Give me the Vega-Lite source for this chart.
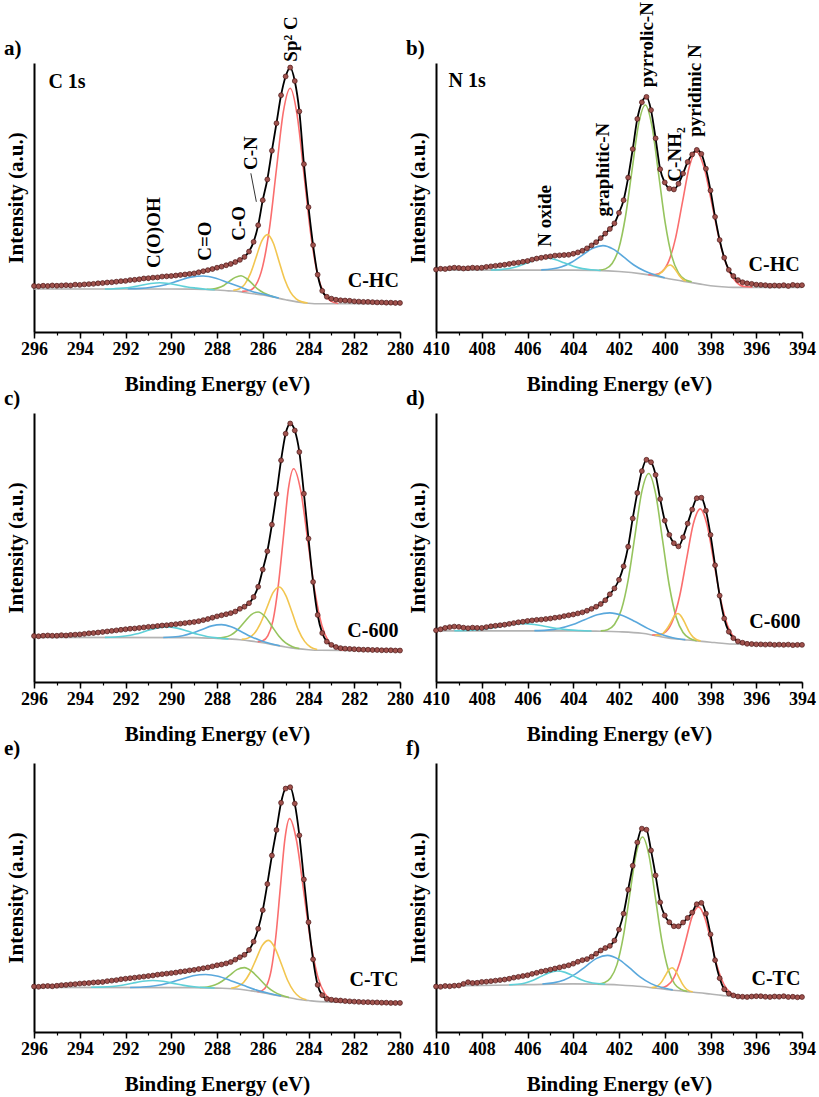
{
  "$schema": "https://vega.github.io/schema/vega-lite/v6.json",
  "description": "XPS C 1s and N 1s spectra of C-HC, C-600 and C-TC with fitted components.",
  "background": "white",
  "padding": {"left": 4, "top": 2, "right": 3, "bottom": 3},
  "config": {
    "view": {"stroke": null},
    "font": "Liberation Serif",
    "header": {"labels": false, "title": null},
    "axis": {
      "grid": false,
      "domainColor": "black",
      "domainWidth": 2,
      "tickColor": "black",
      "labelFont": "Liberation Serif",
      "labelFontWeight": "bold",
      "labelFontSize": 18,
      "labelColor": "black",
      "titleFont": "Liberation Serif",
      "titleFontWeight": "bold",
      "titleFontSize": 21,
      "titleColor": "black"
    },
    "axisY": {"ticks": false, "labels": false, "domainColor": "black", "domainWidth": 2, "titlePadding": 8, "grid": false}
  },
  "data": {
    "values": [
      {"p":"a","k":"d","x":296,"y":17.1},{"p":"a","k":"d","x":295.8,"y":17.0},{"p":"a","k":"d","x":295.6,"y":17.2},{"p":"a","k":"d","x":295.4,"y":17.1},{"p":"a","k":"d","x":295.2,"y":17.3},{"p":"a","k":"d","x":295,"y":17.2},{"p":"a","k":"d","x":294.8,"y":17.3},{"p":"a","k":"d","x":294.6,"y":17.4},{"p":"a","k":"d","x":294.4,"y":17.3},{"p":"a","k":"d","x":294.2,"y":17.6},
      {"p":"a","k":"d","x":294,"y":17.5},{"p":"a","k":"d","x":293.8,"y":17.7},{"p":"a","k":"d","x":293.6,"y":17.8},{"p":"a","k":"d","x":293.4,"y":17.9},{"p":"a","k":"d","x":293.2,"y":18.1},{"p":"a","k":"d","x":293,"y":18.2},{"p":"a","k":"d","x":292.8,"y":18.4},{"p":"a","k":"d","x":292.6,"y":18.5},{"p":"a","k":"d","x":292.4,"y":18.7},{"p":"a","k":"d","x":292.2,"y":18.9},
      {"p":"a","k":"d","x":292,"y":19.0},{"p":"a","k":"d","x":291.8,"y":19.3},{"p":"a","k":"d","x":291.6,"y":19.4},{"p":"a","k":"d","x":291.4,"y":19.6},{"p":"a","k":"d","x":291.2,"y":19.9},{"p":"a","k":"d","x":291,"y":20.0},{"p":"a","k":"d","x":290.8,"y":20.2},{"p":"a","k":"d","x":290.6,"y":20.3},{"p":"a","k":"d","x":290.4,"y":20.6},{"p":"a","k":"d","x":290.2,"y":20.7},
      {"p":"a","k":"d","x":290,"y":20.8},{"p":"a","k":"d","x":289.8,"y":21.0},{"p":"a","k":"d","x":289.6,"y":21.2},{"p":"a","k":"d","x":289.4,"y":21.4},{"p":"a","k":"d","x":289.2,"y":21.6},{"p":"a","k":"d","x":289,"y":21.8},{"p":"a","k":"d","x":288.8,"y":22.2},{"p":"a","k":"d","x":288.6,"y":22.6},{"p":"a","k":"d","x":288.4,"y":23.0},{"p":"a","k":"d","x":288.2,"y":23.4},
      {"p":"a","k":"d","x":288,"y":23.9},{"p":"a","k":"d","x":287.8,"y":24.3},{"p":"a","k":"d","x":287.6,"y":24.8},{"p":"a","k":"d","x":287.4,"y":25.3},{"p":"a","k":"d","x":287.2,"y":26.0},{"p":"a","k":"d","x":287,"y":26.8},{"p":"a","k":"d","x":286.8,"y":27.9},{"p":"a","k":"d","x":286.6,"y":29.9},{"p":"a","k":"d","x":286.4,"y":33.5},{"p":"a","k":"d","x":286.2,"y":39.7},
      {"p":"a","k":"d","x":286,"y":49.0},{"p":"a","k":"d","x":285.8,"y":56.7},{"p":"a","k":"d","x":285.6,"y":67.4},{"p":"a","k":"d","x":285.4,"y":77.6},{"p":"a","k":"d","x":285.2,"y":88.0},{"p":"a","k":"d","x":285,"y":95.0},{"p":"a","k":"d","x":284.8,"y":98.3},{"p":"a","k":"d","x":284.6,"y":93.3},{"p":"a","k":"d","x":284.4,"y":82.0},{"p":"a","k":"d","x":284.2,"y":62.4},
      {"p":"a","k":"d","x":284,"y":46.4},{"p":"a","k":"d","x":283.8,"y":32.3},{"p":"a","k":"d","x":283.6,"y":21.3},{"p":"a","k":"d","x":283.4,"y":15.3},{"p":"a","k":"d","x":283.2,"y":13.1},{"p":"a","k":"d","x":283,"y":12.4},{"p":"a","k":"d","x":282.8,"y":12.0},{"p":"a","k":"d","x":282.6,"y":11.8},{"p":"a","k":"d","x":282.4,"y":11.7},{"p":"a","k":"d","x":282.2,"y":11.6},
      {"p":"a","k":"d","x":282,"y":11.4},{"p":"a","k":"d","x":281.8,"y":11.3},{"p":"a","k":"d","x":281.6,"y":11.2},{"p":"a","k":"d","x":281.4,"y":11.2},{"p":"a","k":"d","x":281.2,"y":11.1},{"p":"a","k":"d","x":281,"y":11.0},{"p":"a","k":"d","x":280.8,"y":11.0},{"p":"a","k":"d","x":280.6,"y":10.9},{"p":"a","k":"d","x":280.4,"y":10.9},{"p":"a","k":"d","x":280.2,"y":10.8},{"p":"a","k":"d","x":280,"y":10.8},

      {"p":"a","k":"c","s":"bg","x":296,"y":16.0},{"p":"a","k":"c","s":"bg","x":290,"y":16.0},{"p":"a","k":"c","s":"bg","x":289,"y":15.95},{"p":"a","k":"c","s":"bg","x":288.5,"y":15.8},{"p":"a","k":"c","s":"bg","x":288,"y":15.6},{"p":"a","k":"c","s":"bg","x":287.5,"y":15.3},{"p":"a","k":"c","s":"bg","x":287,"y":15.0},{"p":"a","k":"c","s":"bg","x":286.5,"y":14.3},{"p":"a","k":"c","s":"bg","x":286,"y":13.8},{"p":"a","k":"c","s":"bg","x":285.5,"y":12.9},{"p":"a","k":"c","s":"bg","x":285,"y":12.0},{"p":"a","k":"c","s":"bg","x":284.5,"y":11.2},{"p":"a","k":"c","s":"bg","x":284,"y":10.7},{"p":"a","k":"c","s":"bg","x":283.5,"y":10.5},{"p":"a","k":"c","s":"bg","x":282,"y":10.5},{"p":"a","k":"c","s":"bg","x":280,"y":10.5},
      {"p":"a","k":"c","s":"rd","x":282.7,"y":10.6},{"p":"a","k":"c","s":"rd","x":283,"y":11.4},{"p":"a","k":"c","s":"rd","x":283.3,"y":14.0},{"p":"a","k":"c","s":"rd","x":283.6,"y":21.2},{"p":"a","k":"c","s":"rd","x":283.9,"y":36.3},{"p":"a","k":"c","s":"rd","x":284.2,"y":58.8},{"p":"a","k":"c","s":"rd","x":284.5,"y":80.8},{"p":"a","k":"c","s":"rd","x":284.8,"y":90.6},{"p":"a","k":"c","s":"rd","x":285.1,"y":81.8},{"p":"a","k":"c","s":"rd","x":285.4,"y":60.6},{"p":"a","k":"c","s":"rd","x":285.7,"y":38.9},{"p":"a","k":"c","s":"rd","x":286,"y":24.5},{"p":"a","k":"c","s":"rd","x":286.3,"y":17.5},{"p":"a","k":"c","s":"rd","x":286.6,"y":15.4},{"p":"a","k":"c","s":"rd","x":286.9,"y":15.1},
      {"p":"a","k":"c","s":"ye","x":284.04,"y":10.8},{"p":"a","k":"c","s":"ye","x":284.29,"y":11.2},{"p":"a","k":"c","s":"ye","x":284.54,"y":12.3},{"p":"a","k":"c","s":"ye","x":284.79,"y":14.8},{"p":"a","k":"c","s":"ye","x":285.04,"y":19.5},{"p":"a","k":"c","s":"ye","x":285.29,"y":26.3},{"p":"a","k":"c","s":"ye","x":285.54,"y":33.1},{"p":"a","k":"c","s":"ye","x":285.79,"y":36.2},{"p":"a","k":"c","s":"ye","x":286.04,"y":33.9},{"p":"a","k":"c","s":"ye","x":286.29,"y":27.8},{"p":"a","k":"c","s":"ye","x":286.54,"y":21.7},{"p":"a","k":"c","s":"ye","x":286.79,"y":17.7},{"p":"a","k":"c","s":"ye","x":287.04,"y":16.0},{"p":"a","k":"c","s":"ye","x":287.29,"y":15.5},
      {"p":"a","k":"c","s":"gr","x":285.45,"y":12.9},{"p":"a","k":"c","s":"gr","x":285.7,"y":13.6},{"p":"a","k":"c","s":"gr","x":285.95,"y":14.5},{"p":"a","k":"c","s":"gr","x":286.2,"y":15.8},{"p":"a","k":"c","s":"gr","x":286.45,"y":17.9},{"p":"a","k":"c","s":"gr","x":286.7,"y":19.8},{"p":"a","k":"c","s":"gr","x":286.95,"y":20.9},{"p":"a","k":"c","s":"gr","x":287.2,"y":20.3},{"p":"a","k":"c","s":"gr","x":287.45,"y":18.9},{"p":"a","k":"c","s":"gr","x":287.7,"y":17.3},{"p":"a","k":"c","s":"gr","x":287.95,"y":16.4},{"p":"a","k":"c","s":"gr","x":288.2,"y":16.0},{"p":"a","k":"c","s":"gr","x":288.45,"y":15.9},
      {"p":"a","k":"c","s":"bl","x":285.3,"y":12.6},{"p":"a","k":"c","s":"bl","x":285.85,"y":13.8},{"p":"a","k":"c","s":"bl","x":286.4,"y":14.9},{"p":"a","k":"c","s":"bl","x":286.95,"y":16.6},{"p":"a","k":"c","s":"bl","x":287.5,"y":18.3},{"p":"a","k":"c","s":"bl","x":288.05,"y":20.0},{"p":"a","k":"c","s":"bl","x":288.6,"y":20.8},{"p":"a","k":"c","s":"bl","x":289.15,"y":20.4},{"p":"a","k":"c","s":"bl","x":289.7,"y":19.0},{"p":"a","k":"c","s":"bl","x":290.25,"y":17.6},{"p":"a","k":"c","s":"bl","x":290.8,"y":16.7},{"p":"a","k":"c","s":"bl","x":291.35,"y":16.2},{"p":"a","k":"c","s":"bl","x":291.9,"y":16.1},
      {"p":"a","k":"c","s":"cy","x":288.1,"y":15.7},{"p":"a","k":"c","s":"cy","x":288.5,"y":15.9},{"p":"a","k":"c","s":"cy","x":288.9,"y":16.3},{"p":"a","k":"c","s":"cy","x":289.3,"y":16.75},{"p":"a","k":"c","s":"cy","x":289.7,"y":17.4},{"p":"a","k":"c","s":"cy","x":290.1,"y":18.0},{"p":"a","k":"c","s":"cy","x":290.5,"y":18.3},{"p":"a","k":"c","s":"cy","x":290.9,"y":18.0},{"p":"a","k":"c","s":"cy","x":291.3,"y":17.4},{"p":"a","k":"c","s":"cy","x":291.7,"y":16.75},{"p":"a","k":"c","s":"cy","x":292.1,"y":16.3},{"p":"a","k":"c","s":"cy","x":292.5,"y":16.1},{"p":"a","k":"c","s":"cy","x":292.9,"y":16.0},
      {"p":"a","k":"n","x":296,"y":103,"t":"a)"},
      {"p":"a","k":"l","x":295.37,"y":90.7,"t":"C 1s"},
      {"p":"a","k":"s","x":280.05,"y":16.6,"t":"C-HC"},
      {"p":"a","k":"r","x":290.77,"y":23.8,"t":"C(O)OH"},
      {"p":"a","k":"r","x":288.51,"y":26.5,"t":"C=O"},
      {"p":"a","k":"r","x":287.06,"y":33.9,"t":"C-O"},
      {"p":"a","k":"r","x":286.51,"y":60.2,"t":"C-N"},
      {"p":"a","k":"r","x":284.76,"y":100.5,"t":"Sp² C"},
      {"p":"a","k":"q","x":286.28,"y":48.4,"x2":286.52,"y2":59.0},

      {"p":"b","k":"d","x":410,"y":23.2},{"p":"b","k":"d","x":409.8,"y":23.5},{"p":"b","k":"d","x":409.6,"y":23.4},{"p":"b","k":"d","x":409.4,"y":23.7},{"p":"b","k":"d","x":409.2,"y":23.9},{"p":"b","k":"d","x":409,"y":23.8},{"p":"b","k":"d","x":408.8,"y":23.6},{"p":"b","k":"d","x":408.6,"y":23.7},{"p":"b","k":"d","x":408.4,"y":23.9},{"p":"b","k":"d","x":408.2,"y":23.8},
      {"p":"b","k":"d","x":408,"y":23.9},{"p":"b","k":"d","x":407.8,"y":24.2},{"p":"b","k":"d","x":407.6,"y":24.4},{"p":"b","k":"d","x":407.4,"y":24.6},{"p":"b","k":"d","x":407.2,"y":24.8},{"p":"b","k":"d","x":407,"y":25.0},{"p":"b","k":"d","x":406.8,"y":25.3},{"p":"b","k":"d","x":406.6,"y":25.6},{"p":"b","k":"d","x":406.4,"y":25.8},{"p":"b","k":"d","x":406.2,"y":26.1},
      {"p":"b","k":"d","x":406,"y":26.4},{"p":"b","k":"d","x":405.8,"y":26.9},{"p":"b","k":"d","x":405.6,"y":27.3},{"p":"b","k":"d","x":405.4,"y":27.6},{"p":"b","k":"d","x":405.2,"y":27.9},{"p":"b","k":"d","x":405,"y":28.1},{"p":"b","k":"d","x":404.8,"y":28.4},{"p":"b","k":"d","x":404.6,"y":28.5},{"p":"b","k":"d","x":404.4,"y":28.6},{"p":"b","k":"d","x":404.2,"y":28.7},
      {"p":"b","k":"d","x":404,"y":29.1},{"p":"b","k":"d","x":403.8,"y":29.6},{"p":"b","k":"d","x":403.6,"y":30.2},{"p":"b","k":"d","x":403.4,"y":31.1},{"p":"b","k":"d","x":403.2,"y":32.2},{"p":"b","k":"d","x":403,"y":33.4},{"p":"b","k":"d","x":402.8,"y":34.9},{"p":"b","k":"d","x":402.6,"y":36.6},{"p":"b","k":"d","x":402.4,"y":38.3},{"p":"b","k":"d","x":402.2,"y":40.4},
      {"p":"b","k":"d","x":402,"y":44.3},{"p":"b","k":"d","x":401.8,"y":49.0},{"p":"b","k":"d","x":401.6,"y":57.4},{"p":"b","k":"d","x":401.4,"y":68.0},{"p":"b","k":"d","x":401.2,"y":79.2},{"p":"b","k":"d","x":401,"y":85.4},{"p":"b","k":"d","x":400.8,"y":87.4},{"p":"b","k":"d","x":400.6,"y":82.5},{"p":"b","k":"d","x":400.4,"y":72.0},{"p":"b","k":"d","x":400.2,"y":60.5},
      {"p":"b","k":"d","x":400,"y":55.6},{"p":"b","k":"d","x":399.8,"y":53.3},{"p":"b","k":"d","x":399.6,"y":53.0},{"p":"b","k":"d","x":399.4,"y":55.1},{"p":"b","k":"d","x":399.2,"y":58.9},{"p":"b","k":"d","x":399,"y":63.2},{"p":"b","k":"d","x":398.8,"y":66.0},{"p":"b","k":"d","x":398.6,"y":67.7},{"p":"b","k":"d","x":398.4,"y":66.2},{"p":"b","k":"d","x":398.2,"y":60.7},
      {"p":"b","k":"d","x":398,"y":52.6},{"p":"b","k":"d","x":397.8,"y":42.8},{"p":"b","k":"d","x":397.6,"y":34.2},{"p":"b","k":"d","x":397.4,"y":27.6},{"p":"b","k":"d","x":397.2,"y":23.1},{"p":"b","k":"d","x":397,"y":20.8},{"p":"b","k":"d","x":396.8,"y":19.3},{"p":"b","k":"d","x":396.6,"y":18.5},{"p":"b","k":"d","x":396.4,"y":18.1},{"p":"b","k":"d","x":396.2,"y":17.9},
      {"p":"b","k":"d","x":396,"y":17.6},{"p":"b","k":"d","x":395.8,"y":17.5},{"p":"b","k":"d","x":395.6,"y":17.4},{"p":"b","k":"d","x":395.4,"y":17.2},{"p":"b","k":"d","x":395.2,"y":17.3},{"p":"b","k":"d","x":395,"y":17.2},{"p":"b","k":"d","x":394.8,"y":17.4},{"p":"b","k":"d","x":394.6,"y":17.1},{"p":"b","k":"d","x":394.4,"y":17.5},{"p":"b","k":"d","x":394.2,"y":17.3},{"p":"b","k":"d","x":394,"y":17.4},

      {"p":"b","k":"c","s":"bg","x":410,"y":23.0},{"p":"b","k":"c","s":"bg","x":404,"y":23.0},{"p":"b","k":"c","s":"bg","x":403,"y":22.9},{"p":"b","k":"c","s":"bg","x":402,"y":22.5},{"p":"b","k":"c","s":"bg","x":401,"y":21.6},{"p":"b","k":"c","s":"bg","x":400.5,"y":20.9},{"p":"b","k":"c","s":"bg","x":400,"y":20.1},{"p":"b","k":"c","s":"bg","x":399.5,"y":19.3},{"p":"b","k":"c","s":"bg","x":399,"y":18.6},{"p":"b","k":"c","s":"bg","x":398.5,"y":17.9},{"p":"b","k":"c","s":"bg","x":398,"y":17.2},{"p":"b","k":"c","s":"bg","x":397.5,"y":16.8},{"p":"b","k":"c","s":"bg","x":397,"y":16.6},{"p":"b","k":"c","s":"bg","x":394,"y":16.6},
      {"p":"b","k":"c","s":"rd","x":396.17,"y":16.7},{"p":"b","k":"c","s":"rd","x":396.52,"y":16.9},{"p":"b","k":"c","s":"rd","x":396.87,"y":18.55},{"p":"b","k":"c","s":"rd","x":397.22,"y":23.15},{"p":"b","k":"c","s":"rd","x":397.57,"y":32.65},{"p":"b","k":"c","s":"rd","x":397.92,"y":46.8},{"p":"b","k":"c","s":"rd","x":398.27,"y":60.73},{"p":"b","k":"c","s":"rd","x":398.62,"y":67.0},{"p":"b","k":"c","s":"rd","x":398.92,"y":61.65},{"p":"b","k":"c","s":"rd","x":399.22,"y":48.56},{"p":"b","k":"c","s":"rd","x":399.52,"y":35.2},{"p":"b","k":"c","s":"rd","x":399.82,"y":26.45},{"p":"b","k":"c","s":"rd","x":400.12,"y":22.45},{"p":"b","k":"c","s":"rd","x":400.42,"y":21.34},{"p":"b","k":"c","s":"rd","x":400.72,"y":21.3},
      {"p":"b","k":"c","s":"gr","x":398.82,"y":18.7},{"p":"b","k":"c","s":"gr","x":399.11,"y":19.4},{"p":"b","k":"c","s":"gr","x":399.4,"y":21.96},{"p":"b","k":"c","s":"gr","x":399.69,"y":28.1},{"p":"b","k":"c","s":"gr","x":399.98,"y":40.57},{"p":"b","k":"c","s":"gr","x":400.27,"y":58.8},{"p":"b","k":"c","s":"gr","x":400.56,"y":76.6},{"p":"b","k":"c","s":"gr","x":400.85,"y":84.4},{"p":"b","k":"c","s":"gr","x":401.14,"y":77.35},{"p":"b","k":"c","s":"gr","x":401.43,"y":60.2},{"p":"b","k":"c","s":"gr","x":401.72,"y":42.75},{"p":"b","k":"c","s":"gr","x":402.01,"y":31.0},{"p":"b","k":"c","s":"gr","x":402.3,"y":25.46},{"p":"b","k":"c","s":"gr","x":402.59,"y":23.47},{"p":"b","k":"c","s":"gr","x":402.88,"y":22.95},
      {"p":"b","k":"c","s":"ye","x":399.08,"y":18.93},{"p":"b","k":"c","s":"ye","x":399.21,"y":19.6},{"p":"b","k":"c","s":"ye","x":399.35,"y":20.79},{"p":"b","k":"c","s":"ye","x":399.48,"y":22.45},{"p":"b","k":"c","s":"ye","x":399.62,"y":24.09},{"p":"b","k":"c","s":"ye","x":399.75,"y":24.9},{"p":"b","k":"c","s":"ye","x":399.89,"y":24.49},{"p":"b","k":"c","s":"ye","x":400.02,"y":23.25},{"p":"b","k":"c","s":"ye","x":400.16,"y":22.04},{"p":"b","k":"c","s":"ye","x":400.29,"y":21.3},{"p":"b","k":"c","s":"ye","x":400.43,"y":21.03},
      {"p":"b","k":"c","s":"bl","x":400,"y":20.2},{"p":"b","k":"c","s":"bl","x":400.45,"y":21.24},{"p":"b","k":"c","s":"bl","x":400.9,"y":22.76},{"p":"b","k":"c","s":"bl","x":401.35,"y":24.92},{"p":"b","k":"c","s":"bl","x":401.8,"y":27.94},{"p":"b","k":"c","s":"bl","x":402.25,"y":30.81},{"p":"b","k":"c","s":"bl","x":402.7,"y":32.1},{"p":"b","k":"c","s":"bl","x":403.15,"y":31.11},{"p":"b","k":"c","s":"bl","x":403.6,"y":28.6},{"p":"b","k":"c","s":"bl","x":404.05,"y":26.02},{"p":"b","k":"c","s":"bl","x":404.5,"y":24.26},{"p":"b","k":"c","s":"bl","x":404.95,"y":23.41},{"p":"b","k":"c","s":"bl","x":405.4,"y":23.1},
      {"p":"b","k":"c","s":"cy","x":402.8,"y":22.87},{"p":"b","k":"c","s":"cy","x":403.2,"y":23.12},{"p":"b","k":"c","s":"cy","x":403.6,"y":23.57},{"p":"b","k":"c","s":"cy","x":404,"y":24.46},{"p":"b","k":"c","s":"cy","x":404.4,"y":25.73},{"p":"b","k":"c","s":"cy","x":404.8,"y":26.97},{"p":"b","k":"c","s":"cy","x":405.2,"y":27.5},{"p":"b","k":"c","s":"cy","x":405.6,"y":26.97},{"p":"b","k":"c","s":"cy","x":406,"y":25.73},{"p":"b","k":"c","s":"cy","x":406.4,"y":24.46},{"p":"b","k":"c","s":"cy","x":406.8,"y":23.61},{"p":"b","k":"c","s":"cy","x":407.2,"y":23.2},{"p":"b","k":"c","s":"cy","x":407.6,"y":23.05},
      {"p":"b","k":"n","x":410,"y":103,"t":"b)"},
      {"p":"b","k":"l","x":409.45,"y":91.0,"t":"N 1s"},
      {"p":"b","k":"s","x":394.1,"y":22.8,"t":"C-HC"},
      {"p":"b","k":"r","x":405.22,"y":31.7,"t":"N oxide"},
      {"p":"b","k":"r","x":402.71,"y":42.9,"t":"graphitic-N"},
      {"p":"b","k":"r","x":400.79,"y":91.0,"t":"pyrrolic-N"},
      {"p":"b","k":"r","x":399.55,"y":55.9,"t":"C-NH₂"},
      {"p":"b","k":"r","x":398.68,"y":72.6,"t":"pyridinic N"},

      {"p":"c","k":"d","x":296,"y":17.1},{"p":"c","k":"d","x":295.8,"y":17.0},{"p":"c","k":"d","x":295.6,"y":17.2},{"p":"c","k":"d","x":295.4,"y":17.3},{"p":"c","k":"d","x":295.2,"y":17.2},{"p":"c","k":"d","x":295,"y":17.2},{"p":"c","k":"d","x":294.8,"y":17.4},{"p":"c","k":"d","x":294.6,"y":17.3},{"p":"c","k":"d","x":294.4,"y":17.5},{"p":"c","k":"d","x":294.2,"y":17.6},
      {"p":"c","k":"d","x":294,"y":17.7},{"p":"c","k":"d","x":293.8,"y":17.9},{"p":"c","k":"d","x":293.6,"y":18.1},{"p":"c","k":"d","x":293.4,"y":18.2},{"p":"c","k":"d","x":293.2,"y":18.4},{"p":"c","k":"d","x":293,"y":18.6},{"p":"c","k":"d","x":292.8,"y":18.8},{"p":"c","k":"d","x":292.6,"y":19.0},{"p":"c","k":"d","x":292.4,"y":19.2},{"p":"c","k":"d","x":292.2,"y":19.4},
      {"p":"c","k":"d","x":292,"y":19.6},{"p":"c","k":"d","x":291.8,"y":19.8},{"p":"c","k":"d","x":291.6,"y":19.9},{"p":"c","k":"d","x":291.4,"y":20.1},{"p":"c","k":"d","x":291.2,"y":20.3},{"p":"c","k":"d","x":291,"y":20.5},{"p":"c","k":"d","x":290.8,"y":20.6},{"p":"c","k":"d","x":290.6,"y":20.8},{"p":"c","k":"d","x":290.4,"y":21.0},{"p":"c","k":"d","x":290.2,"y":21.1},
      {"p":"c","k":"d","x":290,"y":21.3},{"p":"c","k":"d","x":289.8,"y":21.5},{"p":"c","k":"d","x":289.6,"y":21.7},{"p":"c","k":"d","x":289.4,"y":21.9},{"p":"c","k":"d","x":289.2,"y":22.1},{"p":"c","k":"d","x":289,"y":22.3},{"p":"c","k":"d","x":288.8,"y":22.6},{"p":"c","k":"d","x":288.6,"y":23.0},{"p":"c","k":"d","x":288.4,"y":23.4},{"p":"c","k":"d","x":288.2,"y":23.9},
      {"p":"c","k":"d","x":288,"y":24.4},{"p":"c","k":"d","x":287.8,"y":24.8},{"p":"c","k":"d","x":287.6,"y":25.2},{"p":"c","k":"d","x":287.4,"y":25.6},{"p":"c","k":"d","x":287.2,"y":26.2},{"p":"c","k":"d","x":287,"y":27.2},{"p":"c","k":"d","x":286.8,"y":28.0},{"p":"c","k":"d","x":286.6,"y":29.3},{"p":"c","k":"d","x":286.4,"y":31.6},{"p":"c","k":"d","x":286.2,"y":35.4},
      {"p":"c","k":"d","x":286,"y":41.8},{"p":"c","k":"d","x":285.8,"y":48.6},{"p":"c","k":"d","x":285.6,"y":58.5},{"p":"c","k":"d","x":285.4,"y":69.9},{"p":"c","k":"d","x":285.2,"y":82.4},{"p":"c","k":"d","x":285,"y":92.3},{"p":"c","k":"d","x":284.8,"y":96.1},{"p":"c","k":"d","x":284.6,"y":93.5},{"p":"c","k":"d","x":284.4,"y":85.5},{"p":"c","k":"d","x":284.2,"y":70.0},
      {"p":"c","k":"d","x":284,"y":53.3},{"p":"c","k":"d","x":283.8,"y":37.2},{"p":"c","k":"d","x":283.6,"y":24.9},{"p":"c","k":"d","x":283.4,"y":18.2},{"p":"c","k":"d","x":283.2,"y":15.0},{"p":"c","k":"d","x":283,"y":13.8},{"p":"c","k":"d","x":282.8,"y":13.0},{"p":"c","k":"d","x":282.6,"y":12.6},{"p":"c","k":"d","x":282.4,"y":12.4},{"p":"c","k":"d","x":282.2,"y":12.3},
      {"p":"c","k":"d","x":282,"y":12.2},{"p":"c","k":"d","x":281.8,"y":12.1},{"p":"c","k":"d","x":281.6,"y":12.0},{"p":"c","k":"d","x":281.4,"y":12.0},{"p":"c","k":"d","x":281.2,"y":11.9},{"p":"c","k":"d","x":281,"y":11.9},{"p":"c","k":"d","x":280.8,"y":11.8},{"p":"c","k":"d","x":280.6,"y":11.8},{"p":"c","k":"d","x":280.4,"y":11.8},{"p":"c","k":"d","x":280.2,"y":11.7},{"p":"c","k":"d","x":280,"y":11.7},

      {"p":"c","k":"c","s":"bg","x":296,"y":16.6},{"p":"c","k":"c","s":"bg","x":289,"y":16.5},{"p":"c","k":"c","s":"bg","x":288,"y":16.2},{"p":"c","k":"c","s":"bg","x":287,"y":15.7},{"p":"c","k":"c","s":"bg","x":286.5,"y":15.2},{"p":"c","k":"c","s":"bg","x":286,"y":14.6},{"p":"c","k":"c","s":"bg","x":285.5,"y":13.8},{"p":"c","k":"c","s":"bg","x":285,"y":13.0},{"p":"c","k":"c","s":"bg","x":284.5,"y":12.4},{"p":"c","k":"c","s":"bg","x":284,"y":12.0},{"p":"c","k":"c","s":"bg","x":283.5,"y":11.8},{"p":"c","k":"c","s":"bg","x":280,"y":11.7},
      {"p":"c","k":"c","s":"rd","x":282.48,"y":11.85},{"p":"c","k":"c","s":"rd","x":282.79,"y":12.49},{"p":"c","k":"c","s":"rd","x":283.1,"y":14.69},{"p":"c","k":"c","s":"rd","x":283.41,"y":20.82},{"p":"c","k":"c","s":"rd","x":283.72,"y":33.56},{"p":"c","k":"c","s":"rd","x":284.03,"y":52.45},{"p":"c","k":"c","s":"rd","x":284.34,"y":71.13},{"p":"c","k":"c","s":"rd","x":284.65,"y":79.3},{"p":"c","k":"c","s":"rd","x":284.88,"y":71.76},{"p":"c","k":"c","s":"rd","x":285.1,"y":53.61},{"p":"c","k":"c","s":"rd","x":285.33,"y":35.16},{"p":"c","k":"c","s":"rd","x":285.55,"y":22.89},{"p":"c","k":"c","s":"rd","x":285.78,"y":17.13},{"p":"c","k":"c","s":"rd","x":286,"y":15.34},{"p":"c","k":"c","s":"rd","x":286.22,"y":15.0},
      {"p":"c","k":"c","s":"ye","x":283.62,"y":12.09},{"p":"c","k":"c","s":"ye","x":283.9,"y":12.92},{"p":"c","k":"c","s":"ye","x":284.17,"y":15.1},{"p":"c","k":"c","s":"ye","x":284.45,"y":19.47},{"p":"c","k":"c","s":"ye","x":284.72,"y":25.93},{"p":"c","k":"c","s":"ye","x":285,"y":32.33},{"p":"c","k":"c","s":"ye","x":285.27,"y":35.3},{"p":"c","k":"c","s":"ye","x":285.55,"y":33.2},{"p":"c","k":"c","s":"ye","x":285.82,"y":27.58},{"p":"c","k":"c","s":"ye","x":286.1,"y":21.83},{"p":"c","k":"c","s":"ye","x":286.37,"y":18.03},{"p":"c","k":"c","s":"ye","x":286.65,"y":16.31},{"p":"c","k":"c","s":"ye","x":286.92,"y":15.86},
      {"p":"c","k":"c","s":"gr","x":284.4,"y":12.44},{"p":"c","k":"c","s":"gr","x":284.7,"y":13.13},{"p":"c","k":"c","s":"gr","x":285,"y":14.52},{"p":"c","k":"c","s":"gr","x":285.3,"y":17.12},{"p":"c","k":"c","s":"gr","x":285.6,"y":20.75},{"p":"c","k":"c","s":"gr","x":285.9,"y":24.36},{"p":"c","k":"c","s":"gr","x":286.2,"y":26.04},{"p":"c","k":"c","s":"gr","x":286.5,"y":25.08},{"p":"c","k":"c","s":"gr","x":286.8,"y":22.29},{"p":"c","k":"c","s":"gr","x":287.1,"y":19.39},{"p":"c","k":"c","s":"gr","x":287.4,"y":17.42},{"p":"c","k":"c","s":"gr","x":287.7,"y":16.59},{"p":"c","k":"c","s":"gr","x":288,"y":16.32},
      {"p":"c","k":"c","s":"bl","x":285.25,"y":13.46},{"p":"c","k":"c","s":"bl","x":285.68,"y":14.33},{"p":"c","k":"c","s":"bl","x":286.1,"y":15.42},{"p":"c","k":"c","s":"bl","x":286.53,"y":16.92},{"p":"c","k":"c","s":"bl","x":286.95,"y":18.8},{"p":"c","k":"c","s":"bl","x":287.38,"y":20.52},{"p":"c","k":"c","s":"bl","x":287.8,"y":21.34},{"p":"c","k":"c","s":"bl","x":288.23,"y":20.86},{"p":"c","k":"c","s":"bl","x":288.65,"y":19.55},{"p":"c","k":"c","s":"bl","x":289.08,"y":18.19},{"p":"c","k":"c","s":"bl","x":289.5,"y":17.2},{"p":"c","k":"c","s":"bl","x":289.93,"y":16.73},{"p":"c","k":"c","s":"bl","x":290.35,"y":16.56},
      {"p":"c","k":"c","s":"cy","x":287.5,"y":16.04},{"p":"c","k":"c","s":"cy","x":287.95,"y":16.36},{"p":"c","k":"c","s":"cy","x":288.4,"y":16.85},{"p":"c","k":"c","s":"cy","x":288.85,"y":17.73},{"p":"c","k":"c","s":"cy","x":289.3,"y":18.95},{"p":"c","k":"c","s":"cy","x":289.75,"y":20.04},{"p":"c","k":"c","s":"cy","x":290.2,"y":20.5},{"p":"c","k":"c","s":"cy","x":290.65,"y":20.04},{"p":"c","k":"c","s":"cy","x":291.1,"y":18.95},{"p":"c","k":"c","s":"cy","x":291.55,"y":17.83},{"p":"c","k":"c","s":"cy","x":292,"y":17.08},{"p":"c","k":"c","s":"cy","x":292.45,"y":16.72},{"p":"c","k":"c","s":"cy","x":292.9,"y":16.59},
      {"p":"c","k":"n","x":296,"y":103,"t":"c)"},
      {"p":"c","k":"s","x":280.07,"y":16.7,"t":"C-600"},

      {"p":"d","k":"d","x":410,"y":19.2},{"p":"d","k":"d","x":409.8,"y":19.6},{"p":"d","k":"d","x":409.6,"y":20.1},{"p":"d","k":"d","x":409.4,"y":20.4},{"p":"d","k":"d","x":409.2,"y":20.6},{"p":"d","k":"d","x":409,"y":20.5},{"p":"d","k":"d","x":408.8,"y":20.2},{"p":"d","k":"d","x":408.6,"y":20.0},{"p":"d","k":"d","x":408.4,"y":20.2},{"p":"d","k":"d","x":408.2,"y":20.1},
      {"p":"d","k":"d","x":408,"y":20.1},{"p":"d","k":"d","x":407.8,"y":20.4},{"p":"d","k":"d","x":407.6,"y":20.7},{"p":"d","k":"d","x":407.4,"y":20.9},{"p":"d","k":"d","x":407.2,"y":21.1},{"p":"d","k":"d","x":407,"y":21.3},{"p":"d","k":"d","x":406.8,"y":21.6},{"p":"d","k":"d","x":406.6,"y":21.9},{"p":"d","k":"d","x":406.4,"y":22.2},{"p":"d","k":"d","x":406.2,"y":22.4},
      {"p":"d","k":"d","x":406,"y":22.7},{"p":"d","k":"d","x":405.8,"y":22.9},{"p":"d","k":"d","x":405.6,"y":23.1},{"p":"d","k":"d","x":405.4,"y":23.2},{"p":"d","k":"d","x":405.2,"y":23.4},{"p":"d","k":"d","x":405,"y":23.6},{"p":"d","k":"d","x":404.8,"y":23.9},{"p":"d","k":"d","x":404.6,"y":24.1},{"p":"d","k":"d","x":404.4,"y":24.5},{"p":"d","k":"d","x":404.2,"y":24.8},
      {"p":"d","k":"d","x":404,"y":25.1},{"p":"d","k":"d","x":403.8,"y":25.5},{"p":"d","k":"d","x":403.6,"y":25.9},{"p":"d","k":"d","x":403.4,"y":26.5},{"p":"d","k":"d","x":403.2,"y":27.2},{"p":"d","k":"d","x":403,"y":28.0},{"p":"d","k":"d","x":402.8,"y":29.0},{"p":"d","k":"d","x":402.6,"y":30.4},{"p":"d","k":"d","x":402.4,"y":32.6},{"p":"d","k":"d","x":402.2,"y":34.8},
      {"p":"d","k":"d","x":402,"y":38.0},{"p":"d","k":"d","x":401.8,"y":43.0},{"p":"d","k":"d","x":401.6,"y":50.3},{"p":"d","k":"d","x":401.4,"y":60.8},{"p":"d","k":"d","x":401.2,"y":70.3},{"p":"d","k":"d","x":401,"y":78.4},{"p":"d","k":"d","x":400.8,"y":82.6},{"p":"d","k":"d","x":400.6,"y":81.7},{"p":"d","k":"d","x":400.4,"y":77.0},{"p":"d","k":"d","x":400.2,"y":68.0},
      {"p":"d","k":"d","x":400,"y":60.0},{"p":"d","k":"d","x":399.8,"y":54.7},{"p":"d","k":"d","x":399.6,"y":51.6},{"p":"d","k":"d","x":399.4,"y":50.4},{"p":"d","k":"d","x":399.2,"y":53.8},{"p":"d","k":"d","x":399,"y":58.9},{"p":"d","k":"d","x":398.8,"y":64.1},{"p":"d","k":"d","x":398.6,"y":68.3},{"p":"d","k":"d","x":398.4,"y":68.5},{"p":"d","k":"d","x":398.2,"y":63.7},
      {"p":"d","k":"d","x":398,"y":54.7},{"p":"d","k":"d","x":397.8,"y":43.4},{"p":"d","k":"d","x":397.6,"y":32.1},{"p":"d","k":"d","x":397.4,"y":23.6},{"p":"d","k":"d","x":397.2,"y":18.7},{"p":"d","k":"d","x":397,"y":16.3},{"p":"d","k":"d","x":396.8,"y":15.1},{"p":"d","k":"d","x":396.6,"y":14.6},{"p":"d","k":"d","x":396.4,"y":14.2},{"p":"d","k":"d","x":396.2,"y":14.1},
      {"p":"d","k":"d","x":396,"y":14.0},{"p":"d","k":"d","x":395.8,"y":14.0},{"p":"d","k":"d","x":395.6,"y":13.9},{"p":"d","k":"d","x":395.4,"y":14.0},{"p":"d","k":"d","x":395.2,"y":13.8},{"p":"d","k":"d","x":395,"y":13.9},{"p":"d","k":"d","x":394.8,"y":13.8},{"p":"d","k":"d","x":394.6,"y":13.9},{"p":"d","k":"d","x":394.4,"y":13.7},{"p":"d","k":"d","x":394.2,"y":13.8},{"p":"d","k":"d","x":394,"y":13.8},

      {"p":"d","k":"c","s":"bg","x":410,"y":19.0},{"p":"d","k":"c","s":"bg","x":404,"y":19.0},{"p":"d","k":"c","s":"bg","x":403,"y":18.9},{"p":"d","k":"c","s":"bg","x":402,"y":18.7},{"p":"d","k":"c","s":"bg","x":401,"y":18.1},{"p":"d","k":"c","s":"bg","x":400.5,"y":17.4},{"p":"d","k":"c","s":"bg","x":400,"y":16.6},{"p":"d","k":"c","s":"bg","x":399.5,"y":16.0},{"p":"d","k":"c","s":"bg","x":399,"y":15.6},{"p":"d","k":"c","s":"bg","x":398.5,"y":15.2},{"p":"d","k":"c","s":"bg","x":398,"y":14.8},{"p":"d","k":"c","s":"bg","x":397.5,"y":14.4},{"p":"d","k":"c","s":"bg","x":397,"y":14.1},{"p":"d","k":"c","s":"bg","x":394,"y":13.8},
      {"p":"d","k":"c","s":"gr","x":398.6,"y":15.35},{"p":"d","k":"c","s":"gr","x":398.9,"y":16.18},{"p":"d","k":"c","s":"gr","x":399.2,"y":18.39},{"p":"d","k":"c","s":"gr","x":399.5,"y":24.09},{"p":"d","k":"c","s":"gr","x":399.8,"y":35.78},{"p":"d","k":"c","s":"gr","x":400.1,"y":53.03},{"p":"d","k":"c","s":"gr","x":400.4,"y":70.03},{"p":"d","k":"c","s":"gr","x":400.7,"y":77.5},{"p":"d","k":"c","s":"gr","x":401,"y":70.87},{"p":"d","k":"c","s":"gr","x":401.3,"y":54.55},{"p":"d","k":"c","s":"gr","x":401.6,"y":37.88},{"p":"d","k":"c","s":"gr","x":401.9,"y":26.73},{"p":"d","k":"c","s":"gr","x":402.2,"y":21.37},{"p":"d","k":"c","s":"gr","x":402.5,"y":19.46},{"p":"d","k":"c","s":"gr","x":402.8,"y":19.0},
      {"p":"d","k":"c","s":"rd","x":396.35,"y":14.0},{"p":"d","k":"c","s":"rd","x":396.65,"y":14.55},{"p":"d","k":"c","s":"rd","x":396.95,"y":16.26},{"p":"d","k":"c","s":"rd","x":397.25,"y":20.9},{"p":"d","k":"c","s":"rd","x":397.55,"y":30.42},{"p":"d","k":"c","s":"rd","x":397.85,"y":44.52},{"p":"d","k":"c","s":"rd","x":398.15,"y":58.34},{"p":"d","k":"c","s":"rd","x":398.45,"y":64.36},{"p":"d","k":"c","s":"rd","x":398.75,"y":58.82},{"p":"d","k":"c","s":"rd","x":399.05,"y":45.48},{"p":"d","k":"c","s":"rd","x":399.35,"y":31.86},{"p":"d","k":"c","s":"rd","x":399.65,"y":22.84},{"p":"d","k":"c","s":"rd","x":399.95,"y":18.68},{"p":"d","k":"c","s":"rd","x":400.25,"y":17.55},{"p":"d","k":"c","s":"rd","x":400.55,"y":17.5},
      {"p":"d","k":"c","s":"ye","x":398.43,"y":15.24},{"p":"d","k":"c","s":"ye","x":398.6,"y":15.7},{"p":"d","k":"c","s":"ye","x":398.76,"y":16.7},{"p":"d","k":"c","s":"ye","x":398.93,"y":18.62},{"p":"d","k":"c","s":"ye","x":399.09,"y":21.43},{"p":"d","k":"c","s":"ye","x":399.26,"y":24.19},{"p":"d","k":"c","s":"ye","x":399.42,"y":25.44},{"p":"d","k":"c","s":"ye","x":399.59,"y":24.45},{"p":"d","k":"c","s":"ye","x":399.75,"y":21.96},{"p":"d","k":"c","s":"ye","x":399.92,"y":19.58},{"p":"d","k":"c","s":"ye","x":400.08,"y":18.02},{"p":"d","k":"c","s":"ye","x":400.25,"y":17.42},{"p":"d","k":"c","s":"ye","x":400.41,"y":17.36},
      {"p":"d","k":"c","s":"bl","x":399.1,"y":15.76},{"p":"d","k":"c","s":"bl","x":399.65,"y":16.48},{"p":"d","k":"c","s":"bl","x":400.2,"y":17.85},{"p":"d","k":"c","s":"bl","x":400.75,"y":19.94},{"p":"d","k":"c","s":"bl","x":401.3,"y":22.46},{"p":"d","k":"c","s":"bl","x":401.85,"y":24.69},{"p":"d","k":"c","s":"bl","x":402.4,"y":25.68},{"p":"d","k":"c","s":"bl","x":402.95,"y":24.99},{"p":"d","k":"c","s":"bl","x":403.5,"y":23.18},{"p":"d","k":"c","s":"bl","x":404.05,"y":21.24},{"p":"d","k":"c","s":"bl","x":404.6,"y":19.93},{"p":"d","k":"c","s":"bl","x":405.15,"y":19.3},{"p":"d","k":"c","s":"bl","x":405.7,"y":19.08},
      {"p":"d","k":"c","s":"cy","x":403.2,"y":18.97},{"p":"d","k":"c","s":"cy","x":403.7,"y":19.12},{"p":"d","k":"c","s":"cy","x":404.2,"y":19.37},{"p":"d","k":"c","s":"cy","x":404.7,"y":19.88},{"p":"d","k":"c","s":"cy","x":405.2,"y":20.64},{"p":"d","k":"c","s":"cy","x":405.7,"y":21.38},{"p":"d","k":"c","s":"cy","x":406.2,"y":21.7},{"p":"d","k":"c","s":"cy","x":406.7,"y":21.38},{"p":"d","k":"c","s":"cy","x":407.2,"y":20.64},{"p":"d","k":"c","s":"cy","x":407.7,"y":19.88},{"p":"d","k":"c","s":"cy","x":408.2,"y":19.37},{"p":"d","k":"c","s":"cy","x":408.7,"y":19.12},{"p":"d","k":"c","s":"cy","x":409.2,"y":19.03},
      {"p":"d","k":"n","x":410,"y":103,"t":"d)"},
      {"p":"d","k":"s","x":394.07,"y":19.9,"t":"C-600"},

      {"p":"e","k":"d","x":296,"y":16.9},{"p":"e","k":"d","x":295.8,"y":16.8},{"p":"e","k":"d","x":295.6,"y":17.0},{"p":"e","k":"d","x":295.4,"y":17.1},{"p":"e","k":"d","x":295.2,"y":17.0},{"p":"e","k":"d","x":295,"y":17.2},{"p":"e","k":"d","x":294.8,"y":17.4},{"p":"e","k":"d","x":294.6,"y":17.5},{"p":"e","k":"d","x":294.4,"y":17.7},{"p":"e","k":"d","x":294.2,"y":17.8},
      {"p":"e","k":"d","x":294,"y":18.0},{"p":"e","k":"d","x":293.8,"y":18.1},{"p":"e","k":"d","x":293.6,"y":18.2},{"p":"e","k":"d","x":293.4,"y":18.4},{"p":"e","k":"d","x":293.2,"y":18.5},{"p":"e","k":"d","x":293,"y":18.6},{"p":"e","k":"d","x":292.8,"y":18.9},{"p":"e","k":"d","x":292.6,"y":19.1},{"p":"e","k":"d","x":292.4,"y":19.3},{"p":"e","k":"d","x":292.2,"y":19.6},
      {"p":"e","k":"d","x":292,"y":19.8},{"p":"e","k":"d","x":291.8,"y":20.0},{"p":"e","k":"d","x":291.6,"y":20.2},{"p":"e","k":"d","x":291.4,"y":20.4},{"p":"e","k":"d","x":291.2,"y":20.6},{"p":"e","k":"d","x":291,"y":20.8},{"p":"e","k":"d","x":290.8,"y":21.0},{"p":"e","k":"d","x":290.6,"y":21.3},{"p":"e","k":"d","x":290.4,"y":21.5},{"p":"e","k":"d","x":290.2,"y":21.7},
      {"p":"e","k":"d","x":290,"y":21.9},{"p":"e","k":"d","x":289.8,"y":22.1},{"p":"e","k":"d","x":289.6,"y":22.4},{"p":"e","k":"d","x":289.4,"y":22.6},{"p":"e","k":"d","x":289.2,"y":22.9},{"p":"e","k":"d","x":289,"y":23.1},{"p":"e","k":"d","x":288.8,"y":23.4},{"p":"e","k":"d","x":288.6,"y":23.7},{"p":"e","k":"d","x":288.4,"y":24.0},{"p":"e","k":"d","x":288.2,"y":24.4},
      {"p":"e","k":"d","x":288,"y":24.8},{"p":"e","k":"d","x":287.8,"y":25.1},{"p":"e","k":"d","x":287.6,"y":25.5},{"p":"e","k":"d","x":287.4,"y":26.0},{"p":"e","k":"d","x":287.2,"y":26.9},{"p":"e","k":"d","x":287,"y":27.8},{"p":"e","k":"d","x":286.8,"y":28.7},{"p":"e","k":"d","x":286.6,"y":30.5},{"p":"e","k":"d","x":286.4,"y":33.6},{"p":"e","k":"d","x":286.2,"y":38.4},
      {"p":"e","k":"d","x":286,"y":45.3},{"p":"e","k":"d","x":285.8,"y":55.0},{"p":"e","k":"d","x":285.6,"y":65.6},{"p":"e","k":"d","x":285.4,"y":75.1},{"p":"e","k":"d","x":285.2,"y":85.2},{"p":"e","k":"d","x":285,"y":90.5},{"p":"e","k":"d","x":284.8,"y":91.0},{"p":"e","k":"d","x":284.6,"y":84.9},{"p":"e","k":"d","x":284.4,"y":73.1},{"p":"e","k":"d","x":284.2,"y":56.7},
      {"p":"e","k":"d","x":284,"y":40.8},{"p":"e","k":"d","x":283.8,"y":27.0},{"p":"e","k":"d","x":283.6,"y":17.5},{"p":"e","k":"d","x":283.4,"y":13.7},{"p":"e","k":"d","x":283.2,"y":12.3},{"p":"e","k":"d","x":283,"y":12.0},{"p":"e","k":"d","x":282.8,"y":11.8},{"p":"e","k":"d","x":282.6,"y":11.7},{"p":"e","k":"d","x":282.4,"y":11.5},{"p":"e","k":"d","x":282.2,"y":11.4},
      {"p":"e","k":"d","x":282,"y":11.3},{"p":"e","k":"d","x":281.8,"y":11.2},{"p":"e","k":"d","x":281.6,"y":11.1},{"p":"e","k":"d","x":281.4,"y":11.1},{"p":"e","k":"d","x":281.2,"y":11.0},{"p":"e","k":"d","x":281,"y":11.0},{"p":"e","k":"d","x":280.8,"y":10.9},{"p":"e","k":"d","x":280.6,"y":10.9},{"p":"e","k":"d","x":280.4,"y":10.8},{"p":"e","k":"d","x":280.2,"y":10.8},{"p":"e","k":"d","x":280,"y":10.8},

      {"p":"e","k":"c","s":"bg","x":296,"y":16.6},{"p":"e","k":"c","s":"bg","x":289,"y":16.5},{"p":"e","k":"c","s":"bg","x":288,"y":16.3},{"p":"e","k":"c","s":"bg","x":287,"y":15.9},{"p":"e","k":"c","s":"bg","x":286.5,"y":15.3},{"p":"e","k":"c","s":"bg","x":286,"y":14.6},{"p":"e","k":"c","s":"bg","x":285.5,"y":13.8},{"p":"e","k":"c","s":"bg","x":285,"y":13.0},{"p":"e","k":"c","s":"bg","x":284.5,"y":12.2},{"p":"e","k":"c","s":"bg","x":284,"y":11.7},{"p":"e","k":"c","s":"bg","x":283.5,"y":11.3},{"p":"e","k":"c","s":"bg","x":280,"y":10.8},
      {"p":"e","k":"c","s":"rd","x":282.66,"y":11.2},{"p":"e","k":"c","s":"rd","x":282.97,"y":11.96},{"p":"e","k":"c","s":"rd","x":283.28,"y":14.19},{"p":"e","k":"c","s":"rd","x":283.59,"y":20.39},{"p":"e","k":"c","s":"rd","x":283.9,"y":33.27},{"p":"e","k":"c","s":"rd","x":284.21,"y":52.3},{"p":"e","k":"c","s":"rd","x":284.52,"y":71.0},{"p":"e","k":"c","s":"rd","x":284.83,"y":79.33},{"p":"e","k":"c","s":"rd","x":285.03,"y":71.82},{"p":"e","k":"c","s":"rd","x":285.23,"y":53.76},{"p":"e","k":"c","s":"rd","x":285.43,"y":35.32},{"p":"e","k":"c","s":"rd","x":285.63,"y":23.02},{"p":"e","k":"c","s":"rd","x":285.83,"y":17.24},{"p":"e","k":"c","s":"rd","x":286.03,"y":15.38},{"p":"e","k":"c","s":"rd","x":286.23,"y":15.0},
      {"p":"e","k":"c","s":"ye","x":284.09,"y":12.01},{"p":"e","k":"c","s":"ye","x":284.37,"y":12.87},{"p":"e","k":"c","s":"ye","x":284.64,"y":15.11},{"p":"e","k":"c","s":"ye","x":284.92,"y":19.33},{"p":"e","k":"c","s":"ye","x":285.19,"y":25.37},{"p":"e","k":"c","s":"ye","x":285.47,"y":31.31},{"p":"e","k":"c","s":"ye","x":285.74,"y":34.08},{"p":"e","k":"c","s":"ye","x":286.02,"y":32.19},{"p":"e","k":"c","s":"ye","x":286.29,"y":27.07},{"p":"e","k":"c","s":"ye","x":286.57,"y":21.84},{"p":"e","k":"c","s":"ye","x":286.84,"y":18.39},{"p":"e","k":"c","s":"ye","x":287.12,"y":16.82},{"p":"e","k":"c","s":"ye","x":287.39,"y":16.28},
      {"p":"e","k":"c","s":"gr","x":284.85,"y":12.85},{"p":"e","k":"c","s":"gr","x":285.18,"y":13.65},{"p":"e","k":"c","s":"gr","x":285.5,"y":14.91},{"p":"e","k":"c","s":"gr","x":285.83,"y":16.98},{"p":"e","k":"c","s":"gr","x":286.15,"y":19.78},{"p":"e","k":"c","s":"gr","x":286.48,"y":22.52},{"p":"e","k":"c","s":"gr","x":286.8,"y":23.92},{"p":"e","k":"c","s":"gr","x":287.13,"y":23.19},{"p":"e","k":"c","s":"gr","x":287.45,"y":21.05},{"p":"e","k":"c","s":"gr","x":287.78,"y":18.87},{"p":"e","k":"c","s":"gr","x":288.1,"y":17.43},{"p":"e","k":"c","s":"gr","x":288.43,"y":16.75},{"p":"e","k":"c","s":"gr","x":288.75,"y":16.52},
      {"p":"e","k":"c","s":"bl","x":285.2,"y":13.38},{"p":"e","k":"c","s":"bl","x":285.75,"y":14.42},{"p":"e","k":"c","s":"bl","x":286.3,"y":15.66},{"p":"e","k":"c","s":"bl","x":286.85,"y":17.35},{"p":"e","k":"c","s":"bl","x":287.4,"y":19.09},{"p":"e","k":"c","s":"bl","x":287.95,"y":20.7},{"p":"e","k":"c","s":"bl","x":288.5,"y":21.4},{"p":"e","k":"c","s":"bl","x":289.05,"y":20.91},{"p":"e","k":"c","s":"bl","x":289.6,"y":19.53},{"p":"e","k":"c","s":"bl","x":290.15,"y":18.12},{"p":"e","k":"c","s":"bl","x":290.7,"y":17.18},{"p":"e","k":"c","s":"bl","x":291.25,"y":16.72},{"p":"e","k":"c","s":"bl","x":291.8,"y":16.56},
      {"p":"e","k":"c","s":"cy","x":288.1,"y":16.35},{"p":"e","k":"c","s":"cy","x":288.55,"y":16.53},{"p":"e","k":"c","s":"cy","x":289,"y":16.85},{"p":"e","k":"c","s":"cy","x":289.45,"y":17.34},{"p":"e","k":"c","s":"cy","x":289.9,"y":18.08},{"p":"e","k":"c","s":"cy","x":290.35,"y":18.84},{"p":"e","k":"c","s":"cy","x":290.8,"y":19.15},{"p":"e","k":"c","s":"cy","x":291.25,"y":18.84},{"p":"e","k":"c","s":"cy","x":291.7,"y":18.13},{"p":"e","k":"c","s":"cy","x":292.15,"y":17.39},{"p":"e","k":"c","s":"cy","x":292.6,"y":16.9},{"p":"e","k":"c","s":"cy","x":293.05,"y":16.68},{"p":"e","k":"c","s":"cy","x":293.5,"y":16.61},
      {"p":"e","k":"n","x":296,"y":103,"t":"e)"},
      {"p":"e","k":"s","x":280.07,"y":17.0,"t":"C-TC"},

      {"p":"f","k":"d","x":410,"y":16.9},{"p":"f","k":"d","x":409.8,"y":16.8},{"p":"f","k":"d","x":409.6,"y":17.1},{"p":"f","k":"d","x":409.4,"y":17.0},{"p":"f","k":"d","x":409.2,"y":17.2},{"p":"f","k":"d","x":409,"y":17.3},{"p":"f","k":"d","x":408.8,"y":17.9},{"p":"f","k":"d","x":408.6,"y":18.5},{"p":"f","k":"d","x":408.4,"y":18.2},{"p":"f","k":"d","x":408.2,"y":18.3},
      {"p":"f","k":"d","x":408,"y":18.6},{"p":"f","k":"d","x":407.8,"y":18.7},{"p":"f","k":"d","x":407.6,"y":18.9},{"p":"f","k":"d","x":407.4,"y":19.1},{"p":"f","k":"d","x":407.2,"y":19.3},{"p":"f","k":"d","x":407,"y":19.5},{"p":"f","k":"d","x":406.8,"y":19.8},{"p":"f","k":"d","x":406.6,"y":20.2},{"p":"f","k":"d","x":406.4,"y":20.5},{"p":"f","k":"d","x":406.2,"y":20.8},
      {"p":"f","k":"d","x":406,"y":21.1},{"p":"f","k":"d","x":405.8,"y":21.6},{"p":"f","k":"d","x":405.6,"y":22.0},{"p":"f","k":"d","x":405.4,"y":22.5},{"p":"f","k":"d","x":405.2,"y":22.8},{"p":"f","k":"d","x":405,"y":23.2},{"p":"f","k":"d","x":404.8,"y":23.6},{"p":"f","k":"d","x":404.6,"y":24.0},{"p":"f","k":"d","x":404.4,"y":24.4},{"p":"f","k":"d","x":404.2,"y":24.8},
      {"p":"f","k":"d","x":404,"y":25.4},{"p":"f","k":"d","x":403.8,"y":26.1},{"p":"f","k":"d","x":403.6,"y":26.7},{"p":"f","k":"d","x":403.4,"y":27.1},{"p":"f","k":"d","x":403.2,"y":28.0},{"p":"f","k":"d","x":403,"y":29.1},{"p":"f","k":"d","x":402.8,"y":30.3},{"p":"f","k":"d","x":402.6,"y":31.2},{"p":"f","k":"d","x":402.4,"y":32.0},{"p":"f","k":"d","x":402.2,"y":34.0},
      {"p":"f","k":"d","x":402,"y":38.1},{"p":"f","k":"d","x":401.8,"y":44.0},{"p":"f","k":"d","x":401.6,"y":52.9},{"p":"f","k":"d","x":401.4,"y":61.8},{"p":"f","k":"d","x":401.2,"y":70.5},{"p":"f","k":"d","x":401,"y":75.6},{"p":"f","k":"d","x":400.8,"y":75.2},{"p":"f","k":"d","x":400.6,"y":67.5},{"p":"f","k":"d","x":400.4,"y":58.2},{"p":"f","k":"d","x":400.2,"y":48.2},
      {"p":"f","k":"d","x":400,"y":43.3},{"p":"f","k":"d","x":399.8,"y":40.8},{"p":"f","k":"d","x":399.6,"y":39.3},{"p":"f","k":"d","x":399.4,"y":39.3},{"p":"f","k":"d","x":399.2,"y":40.7},{"p":"f","k":"d","x":399,"y":42.4},{"p":"f","k":"d","x":398.8,"y":44.4},{"p":"f","k":"d","x":398.6,"y":47.5},{"p":"f","k":"d","x":398.4,"y":48.0},{"p":"f","k":"d","x":398.2,"y":44.0},
      {"p":"f","k":"d","x":398,"y":36.3},{"p":"f","k":"d","x":397.8,"y":26.7},{"p":"f","k":"d","x":397.6,"y":20.0},{"p":"f","k":"d","x":397.4,"y":15.9},{"p":"f","k":"d","x":397.2,"y":14.3},{"p":"f","k":"d","x":397,"y":13.6},{"p":"f","k":"d","x":396.8,"y":13.2},{"p":"f","k":"d","x":396.6,"y":13.1},{"p":"f","k":"d","x":396.4,"y":13.0},{"p":"f","k":"d","x":396.2,"y":13.2},
      {"p":"f","k":"d","x":396,"y":13.3},{"p":"f","k":"d","x":395.8,"y":13.3},{"p":"f","k":"d","x":395.6,"y":13.1},{"p":"f","k":"d","x":395.4,"y":13.0},{"p":"f","k":"d","x":395.2,"y":13.2},{"p":"f","k":"d","x":395,"y":13.1},{"p":"f","k":"d","x":394.8,"y":13.3},{"p":"f","k":"d","x":394.6,"y":13.0},{"p":"f","k":"d","x":394.4,"y":13.1},{"p":"f","k":"d","x":394.2,"y":12.9},{"p":"f","k":"d","x":394,"y":13.0},

      {"p":"f","k":"c","s":"bg","x":410,"y":17.0},{"p":"f","k":"c","s":"bg","x":406,"y":17.6},{"p":"f","k":"c","s":"bg","x":404,"y":17.9},{"p":"f","k":"c","s":"bg","x":403,"y":17.8},{"p":"f","k":"c","s":"bg","x":402,"y":17.5},{"p":"f","k":"c","s":"bg","x":401,"y":16.9},{"p":"f","k":"c","s":"bg","x":400.5,"y":16.4},{"p":"f","k":"c","s":"bg","x":400,"y":15.9},{"p":"f","k":"c","s":"bg","x":399.5,"y":15.4},{"p":"f","k":"c","s":"bg","x":399,"y":15.0},{"p":"f","k":"c","s":"bg","x":398.5,"y":14.6},{"p":"f","k":"c","s":"bg","x":398,"y":14.1},{"p":"f","k":"c","s":"bg","x":397.5,"y":13.6},{"p":"f","k":"c","s":"bg","x":397,"y":13.2},{"p":"f","k":"c","s":"bg","x":394,"y":12.9},
      {"p":"f","k":"c","s":"gr","x":399.01,"y":15.1},{"p":"f","k":"c","s":"gr","x":399.29,"y":15.85},{"p":"f","k":"c","s":"gr","x":399.57,"y":17.91},{"p":"f","k":"c","s":"gr","x":399.85,"y":23.27},{"p":"f","k":"c","s":"gr","x":400.13,"y":34.08},{"p":"f","k":"c","s":"gr","x":400.41,"y":50.03},{"p":"f","k":"c","s":"gr","x":400.69,"y":65.66},{"p":"f","k":"c","s":"gr","x":400.97,"y":72.48},{"p":"f","k":"c","s":"gr","x":401.25,"y":66.27},{"p":"f","k":"c","s":"gr","x":401.53,"y":51.06},{"p":"f","k":"c","s":"gr","x":401.81,"y":35.51},{"p":"f","k":"c","s":"gr","x":402.09,"y":25.05},{"p":"f","k":"c","s":"gr","x":402.37,"y":20.05},{"p":"f","k":"c","s":"gr","x":402.65,"y":18.32},{"p":"f","k":"c","s":"gr","x":402.93,"y":17.85},
      {"p":"f","k":"c","s":"rd","x":396.87,"y":13.52},{"p":"f","k":"c","s":"rd","x":397.15,"y":14.72},{"p":"f","k":"c","s":"rd","x":397.42,"y":17.85},{"p":"f","k":"c","s":"rd","x":397.7,"y":24.16},{"p":"f","k":"c","s":"rd","x":397.97,"y":33.42},{"p":"f","k":"c","s":"rd","x":398.25,"y":42.5},{"p":"f","k":"c","s":"rd","x":398.52,"y":46.52},{"p":"f","k":"c","s":"rd","x":398.8,"y":42.99},{"p":"f","k":"c","s":"rd","x":399.07,"y":34.41},{"p":"f","k":"c","s":"rd","x":399.35,"y":25.64},{"p":"f","k":"c","s":"rd","x":399.62,"y":19.84},{"p":"f","k":"c","s":"rd","x":399.9,"y":17.2},{"p":"f","k":"c","s":"rd","x":400.17,"y":16.42},
      {"p":"f","k":"c","s":"ye","x":398.78,"y":14.91},{"p":"f","k":"c","s":"ye","x":398.93,"y":15.3},{"p":"f","k":"c","s":"ye","x":399.08,"y":16.18},{"p":"f","k":"c","s":"ye","x":399.23,"y":17.87},{"p":"f","k":"c","s":"ye","x":399.38,"y":20.33},{"p":"f","k":"c","s":"ye","x":399.53,"y":22.74},{"p":"f","k":"c","s":"ye","x":399.68,"y":23.88},{"p":"f","k":"c","s":"ye","x":399.83,"y":23.05},{"p":"f","k":"c","s":"ye","x":399.98,"y":20.91},{"p":"f","k":"c","s":"ye","x":400.13,"y":18.72},{"p":"f","k":"c","s":"ye","x":400.28,"y":17.3},{"p":"f","k":"c","s":"ye","x":400.43,"y":16.69},{"p":"f","k":"c","s":"ye","x":400.58,"y":16.57},
      {"p":"f","k":"c","s":"bl","x":399.65,"y":15.67},{"p":"f","k":"c","s":"bl","x":400.13,"y":16.51},{"p":"f","k":"c","s":"bl","x":400.6,"y":17.99},{"p":"f","k":"c","s":"bl","x":401.08,"y":20.5},{"p":"f","k":"c","s":"bl","x":401.55,"y":23.93},{"p":"f","k":"c","s":"bl","x":402.03,"y":27.09},{"p":"f","k":"c","s":"bl","x":402.5,"y":28.5},{"p":"f","k":"c","s":"bl","x":402.98,"y":27.37},{"p":"f","k":"c","s":"bl","x":403.45,"y":24.43},{"p":"f","k":"c","s":"bl","x":403.93,"y":21.42},{"p":"f","k":"c","s":"bl","x":404.4,"y":19.31},{"p":"f","k":"c","s":"bl","x":404.88,"y":18.26},{"p":"f","k":"c","s":"bl","x":405.35,"y":17.83},
      {"p":"f","k":"c","s":"cy","x":402.6,"y":17.73},{"p":"f","k":"c","s":"cy","x":402.95,"y":18.0},{"p":"f","k":"c","s":"cy","x":403.3,"y":18.5},{"p":"f","k":"c","s":"cy","x":403.65,"y":19.46},{"p":"f","k":"c","s":"cy","x":404,"y":20.87},{"p":"f","k":"c","s":"cy","x":404.35,"y":22.17},{"p":"f","k":"c","s":"cy","x":404.7,"y":22.7},{"p":"f","k":"c","s":"cy","x":405.05,"y":22.07},{"p":"f","k":"c","s":"cy","x":405.4,"y":20.67},{"p":"f","k":"c","s":"cy","x":405.75,"y":19.24},{"p":"f","k":"c","s":"cy","x":406.1,"y":18.25},{"p":"f","k":"c","s":"cy","x":406.45,"y":17.76},{"p":"f","k":"c","s":"cy","x":406.8,"y":17.53},
      {"p":"f","k":"n","x":410,"y":103,"t":"f)"},
      {"p":"f","k":"s","x":394.07,"y":17.4,"t":"C-TC"}
    ]
  },
  "transform": [
    {
      "lookup": "p",
      "from": {
        "data": {"values": [
          {"p": "a", "r": 1, "cl": "C"}, {"p": "b", "r": 1, "cl": "N"},
          {"p": "c", "r": 2, "cl": "C"}, {"p": "d", "r": 2, "cl": "N"},
          {"p": "e", "r": 3, "cl": "C"}, {"p": "f", "r": 3, "cl": "N"}
        ]},
        "key": "p",
        "fields": ["r", "cl"]
      }
    }
  ],
  "facet": {
    "row": {"field": "r", "type": "ordinal", "header": {"labels": false, "title": null}},
    "column": {"field": "cl", "type": "nominal", "header": {"labels": false, "title": null}}
  },
  "spacing": {"row": 81, "column": 36},
  "bounds": "flush",
  "resolve": {"scale": {"x": "independent", "y": "independent"}},
  "spec": {
    "width": 366,
    "height": 269,
    "resolve": {"axis": {"x": "independent"}},
    "layer": [
      {
        "transform": [{"filter": "datum.k == 'c'"}],
        "mark": {"type": "line", "interpolate": "monotone", "strokeWidth": 1.6},
        "encoding": {
          "x": {
            "field": "x",
            "type": "quantitative",
            "scale": {"reverse": true, "nice": false, "zero": false},
            "axis": {
              "title": "Binding Energy (eV)",
              "tickCount": 8,
              "format": "d",
              "tickSize": 6,
              "tickWidth": 1.5,
              "tickColor": "black",
              "domainColor": "black",
              "domainWidth": 2,
              "labelPadding": 2,
              "labelFlush": false,
              "labelOverlap": false,
              "labelFont": "Liberation Serif",
              "labelFontWeight": "bold",
              "labelFontSize": 18,
              "labelColor": "black",
              "titleFont": "Liberation Serif",
              "titleFontWeight": "bold",
              "titleFontSize": 21,
              "titleColor": "black",
              "titlePadding": 15
            }
          },
          "y": {
            "field": "y",
            "type": "quantitative",
            "title": "Intensity (a.u.)",
            "scale": {"domain": [0, 100], "nice": false}
          },
          "color": {
            "field": "s",
            "type": "nominal",
            "scale": {
              "domain": ["bg", "cy", "bl", "gr", "ye", "rd"],
              "range": ["#b3b3b3", "#5fd0d8", "#5aa8dc", "#96c45e", "#f2c650", "#fa6e6e"]
            },
            "legend": null
          }
        }
      },
      {
        "transform": [{"filter": "datum.k == 'd'"}],
        "mark": {"type": "line", "interpolate": "monotone", "color": "black", "strokeWidth": 1.8},
        "encoding": {
          "x": {
            "field": "x",
            "type": "quantitative",
            "axis": {"tickCount": 16, "labels": false, "domain": false, "title": null, "tickSize": 3, "tickWidth": 1.2, "tickColor": "black", "orient": "bottom"}
          },
          "y": {"field": "y", "type": "quantitative", "title": "Intensity (a.u.)"}
        }
      },
      {
        "transform": [{"filter": "datum.k == 'd'"}],
        "mark": {"type": "circle", "size": 24, "color": "#a0524d", "stroke": "#4a1616", "strokeWidth": 0.7, "opacity": 1},
        "encoding": {
          "x": {"field": "x", "type": "quantitative", "axis": null},
          "y": {"field": "y", "type": "quantitative", "title": "Intensity (a.u.)"}
        }
      },
      {
        "transform": [{"filter": "datum.k == 'q'"}],
        "mark": {"type": "rule", "color": "#333333", "strokeWidth": 1},
        "encoding": {
          "x": {"field": "x", "type": "quantitative", "axis": null},
          "y": {"field": "y", "type": "quantitative", "title": "Intensity (a.u.)"},
          "x2": {"field": "x2"},
          "y2": {"field": "y2"}
        }
      },
      {
        "transform": [{"filter": "datum.k == 'r'"}],
        "mark": {"type": "text", "angle": 270, "align": "left", "baseline": "middle", "font": "Liberation Serif", "fontWeight": "bold", "fontSize": 19, "color": "black"},
        "encoding": {
          "x": {"field": "x", "type": "quantitative", "axis": null},
          "y": {"field": "y", "type": "quantitative", "title": "Intensity (a.u.)"},
          "text": {"field": "t"}
        }
      },
      {
        "transform": [{"filter": "datum.k == 'l'"}],
        "mark": {"type": "text", "align": "left", "baseline": "alphabetic", "font": "Liberation Serif", "fontWeight": "bold", "fontSize": 20, "color": "black"},
        "encoding": {
          "x": {"field": "x", "type": "quantitative", "axis": null},
          "y": {"field": "y", "type": "quantitative", "title": "Intensity (a.u.)"},
          "text": {"field": "t"}
        }
      },
      {
        "transform": [{"filter": "datum.k == 's'"}],
        "mark": {"type": "text", "align": "right", "baseline": "alphabetic", "font": "Liberation Serif", "fontWeight": "bold", "fontSize": 20, "color": "black"},
        "encoding": {
          "x": {"field": "x", "type": "quantitative", "axis": null},
          "y": {"field": "y", "type": "quantitative", "title": "Intensity (a.u.)"},
          "text": {"field": "t"}
        }
      },
      {
        "transform": [{"filter": "datum.k == 'n'"}],
        "mark": {"type": "text", "align": "left", "baseline": "alphabetic", "dx": -30, "font": "Liberation Serif", "fontWeight": "bold", "fontSize": 21, "color": "black"},
        "encoding": {
          "x": {"field": "x", "type": "quantitative", "axis": null},
          "y": {"field": "y", "type": "quantitative", "title": "Intensity (a.u.)"},
          "text": {"field": "t"}
        }
      }
    ]
  }
}
